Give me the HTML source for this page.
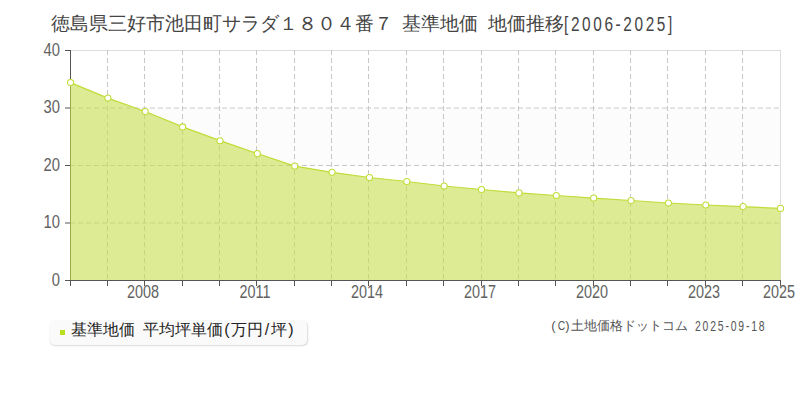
<!DOCTYPE html>
<html><head><meta charset="utf-8">
<style>
html,body{margin:0;padding:0;background:#fff;}
body{width:800px;height:400px;position:relative;overflow:hidden;font-family:"Liberation Sans",sans-serif;}
svg{position:absolute;left:0;top:0;}
.a{position:absolute;white-space:nowrap;line-height:1;}
.h{display:inline-block;text-align:center;}
.tt{font-size:18.5px;color:#454545;}
.num{font-size:18px;color:#555;transform-origin:50% 0;}
.yl{font-size:18.5px;color:#626262;transform-origin:100% 0;transform:scaleX(0.8);text-align:right;width:40px;}
.xl{font-size:18px;color:#626262;transform-origin:50% 0;transform:scaleX(0.8);text-align:center;width:60px;}
#legend{position:absolute;left:50px;top:320px;width:257px;height:25px;background:#fafafa;border-radius:5px;box-shadow:0.5px 1px 1.5px rgba(0,0,0,0.15);}
#legend .sq{position:absolute;left:10px;top:10px;width:5px;height:5px;background:#b8df1f;}
.lg{font-size:16px;color:#222;}
.cp{font-size:13px;color:#555;}
</style></head><body>
<svg width="800" height="400" viewBox="0 0 800 400">
<rect x="71" y="108" width="709" height="57.5" fill="#fcfcfd"/>
<line x1="71" y1="50.5" x2="781" y2="50.5" stroke="#dddddd"/>
<line x1="780.5" y1="50" x2="780.5" y2="280" stroke="#dddddd"/>
<g stroke="#c8c8c8" stroke-width="1" stroke-dasharray="5 3">
<line x1="70" y1="108" x2="780" y2="108"/>
<line x1="70" y1="165.5" x2="780" y2="165.5"/>
<line x1="70" y1="223" x2="780" y2="223"/>
<line x1="107.5" y1="50" x2="107.5" y2="280"/>
<line x1="144.5" y1="50" x2="144.5" y2="280"/>
<line x1="182.5" y1="50" x2="182.5" y2="280"/>
<line x1="219.5" y1="50" x2="219.5" y2="280"/>
<line x1="256.5" y1="50" x2="256.5" y2="280"/>
<line x1="294.5" y1="50" x2="294.5" y2="280"/>
<line x1="331.5" y1="50" x2="331.5" y2="280"/>
<line x1="368.5" y1="50" x2="368.5" y2="280"/>
<line x1="406.5" y1="50" x2="406.5" y2="280"/>
<line x1="443.5" y1="50" x2="443.5" y2="280"/>
<line x1="481.5" y1="50" x2="481.5" y2="280"/>
<line x1="518.5" y1="50" x2="518.5" y2="280"/>
<line x1="555.5" y1="50" x2="555.5" y2="280"/>
<line x1="593.5" y1="50" x2="593.5" y2="280"/>
<line x1="630.5" y1="50" x2="630.5" y2="280"/>
<line x1="667.5" y1="50" x2="667.5" y2="280"/>
<line x1="705.5" y1="50" x2="705.5" y2="280"/>
<line x1="742.5" y1="50" x2="742.5" y2="280"/>
</g>
<g stroke="#555555" stroke-width="1">
<line x1="70.5" y1="50" x2="70.5" y2="281"/>
<line x1="65" y1="280.5" x2="781" y2="280.5"/>
<line x1="65" y1="50.5" x2="70" y2="50.5"/>
<line x1="65" y1="108" x2="70" y2="108"/>
<line x1="65" y1="165.5" x2="70" y2="165.5"/>
<line x1="65" y1="223" x2="70" y2="223"/>
<line x1="70.5" y1="281" x2="70.5" y2="286"/>
<line x1="107.5" y1="281" x2="107.5" y2="286"/>
<line x1="144.5" y1="281" x2="144.5" y2="286"/>
<line x1="182.5" y1="281" x2="182.5" y2="286"/>
<line x1="219.5" y1="281" x2="219.5" y2="286"/>
<line x1="256.5" y1="281" x2="256.5" y2="286"/>
<line x1="294.5" y1="281" x2="294.5" y2="286"/>
<line x1="331.5" y1="281" x2="331.5" y2="286"/>
<line x1="368.5" y1="281" x2="368.5" y2="286"/>
<line x1="406.5" y1="281" x2="406.5" y2="286"/>
<line x1="443.5" y1="281" x2="443.5" y2="286"/>
<line x1="481.5" y1="281" x2="481.5" y2="286"/>
<line x1="518.5" y1="281" x2="518.5" y2="286"/>
<line x1="555.5" y1="281" x2="555.5" y2="286"/>
<line x1="593.5" y1="281" x2="593.5" y2="286"/>
<line x1="630.5" y1="281" x2="630.5" y2="286"/>
<line x1="667.5" y1="281" x2="667.5" y2="286"/>
<line x1="705.5" y1="281" x2="705.5" y2="286"/>
<line x1="742.5" y1="281" x2="742.5" y2="286"/>
<line x1="780.5" y1="281" x2="780.5" y2="286"/>
</g>
<path d="M70.50,82.55 L107.87,98.1 L145.24,111.5 L182.61,126.9 L219.97,140.7 L257.34,153.5 L294.71,166.1 L332.08,172.35 L369.45,177.5 L406.82,181.5 L444.18,186.0 L481.55,189.5 L518.92,192.9 L556.29,195.5 L593.66,198.1 L631.03,200.5 L668.39,203.0 L705.76,205.0 L743.13,206.6 L780.50,208.4 L780.5,280 L70,280 L70,82.55 Z" fill="rgba(197,222,77,0.6)"/>
<polyline points="70.50,82.55 107.87,98.1 145.24,111.5 182.61,126.9 219.97,140.7 257.34,153.5 294.71,166.1 332.08,172.35 369.45,177.5 406.82,181.5 444.18,186.0 481.55,189.5 518.92,192.9 556.29,195.5 593.66,198.1 631.03,200.5 668.39,203.0 705.76,205.0 743.13,206.6 780.50,208.4" fill="none" stroke="#bedd38" stroke-width="1.25" stroke-linejoin="round"/>
<g fill="#ffffff" stroke="#bedd38" stroke-width="1.05">
<circle cx="70.50" cy="82.55" r="3.05"/>
<circle cx="107.87" cy="98.1" r="3.05"/>
<circle cx="145.24" cy="111.5" r="3.05"/>
<circle cx="182.61" cy="126.9" r="3.05"/>
<circle cx="219.97" cy="140.7" r="3.05"/>
<circle cx="257.34" cy="153.5" r="3.05"/>
<circle cx="294.71" cy="166.1" r="3.05"/>
<circle cx="332.08" cy="172.35" r="3.05"/>
<circle cx="369.45" cy="177.5" r="3.05"/>
<circle cx="406.82" cy="181.5" r="3.05"/>
<circle cx="444.18" cy="186.0" r="3.05"/>
<circle cx="481.55" cy="189.5" r="3.05"/>
<circle cx="518.92" cy="192.9" r="3.05"/>
<circle cx="556.29" cy="195.5" r="3.05"/>
<circle cx="593.66" cy="198.1" r="3.05"/>
<circle cx="631.03" cy="200.5" r="3.05"/>
<circle cx="668.39" cy="203.0" r="3.05"/>
<circle cx="705.76" cy="205.0" r="3.05"/>
<circle cx="743.13" cy="206.6" r="3.05"/>
<circle cx="780.50" cy="208.4" r="3.05"/>
</g>
</svg>
<div class="a tt" style="left:50.5px;top:15px;">徳島県三好市池田町サラダ１８０４番７</div>
<div class="a tt" style="left:402px;top:15px;">基準地価</div>
<div class="a tt" style="left:487.5px;top:15px;">地価推移</div>
<div class="a tt" style="left:564px;top:13.7px;font-size:20.5px;letter-spacing:3.5px;transform:scaleX(0.75);transform-origin:0 0;">[2006-2025]</div>
<div class="a yl" style="left:19.5px;top:41px;">40</div>
<div class="a yl" style="left:19.5px;top:98px;">30</div>
<div class="a yl" style="left:19.5px;top:156px;">20</div>
<div class="a yl" style="left:19.5px;top:213px;">10</div>
<div class="a yl" style="left:19.5px;top:271px;">0</div>
<div class="a xl" style="left:113.0px;top:283px;">2008</div>
<div class="a xl" style="left:225.0px;top:283px;">2011</div>
<div class="a xl" style="left:337.0px;top:283px;">2014</div>
<div class="a xl" style="left:450.0px;top:283px;">2017</div>
<div class="a xl" style="left:562.0px;top:283px;">2020</div>
<div class="a xl" style="left:674.0px;top:283px;">2023</div>
<div class="a xl" style="left:749.0px;top:283px;">2025</div>
<div id="legend"><div class="sq"></div></div>
<div class="a lg" style="left:71px;top:322px;">基準地価<span class="h" style="width:8px"> </span>平均坪単価<span class="h" style="width:8px">(</span>万円<span class="h" style="width:8px">/</span>坪<span class="h" style="width:8px">)</span></div>
<div class="a cp" style="left:550px;top:318px;"><span class="h" style="width:7px">(</span><span class="h" style="width:7px;transform:scaleX(0.8)">C</span><span class="h" style="width:7px">)</span>土地価格ドットコム<span class="h" style="width:7px"> </span><span class="h" style="transform:scaleX(0.72);transform-origin:0 0;letter-spacing:2.5px;font-size:14.5px;position:relative;top:1px">2025-09-18</span></div>
</body></html>
